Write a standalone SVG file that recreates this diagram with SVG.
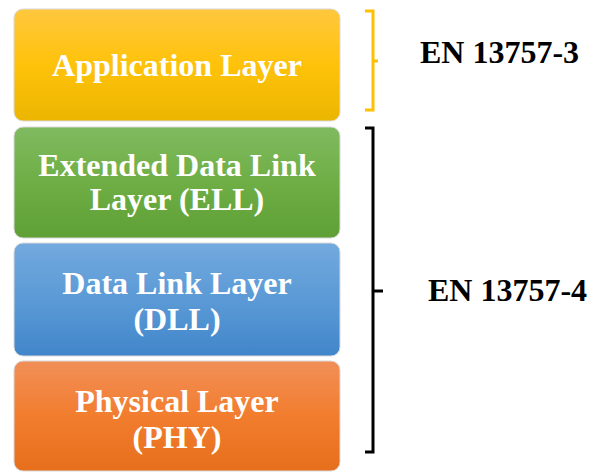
<svg xmlns="http://www.w3.org/2000/svg" width="590" height="472" viewBox="0 0 590 472">
  <style>
    .layer-text { font-family: 'Liberation Serif', 'DejaVu Serif', serif; font-weight: 700; font-size: 32px; fill: #ffffff; text-anchor: middle; }
    .std-text { font-family: 'Liberation Serif', 'DejaVu Serif', serif; font-weight: 700; font-size: 32px; fill: #000000; }
    .box { stroke: #d9d9d9; stroke-width: 1; }
    .bracket { fill: none; stroke-width: 3; stroke-linejoin: miter; }
  </style>
  <defs>
    <linearGradient id="gradYellow" x1="0" y1="0" x2="0" y2="1">
      <stop offset="0" stop-color="#ffc83e"/>
      <stop offset="0.5" stop-color="#ffc20a"/>
      <stop offset="1" stop-color="#ebb600"/>
    </linearGradient>
    <linearGradient id="gradGreen" x1="0" y1="0" x2="0" y2="1">
      <stop offset="0" stop-color="#80ba60"/>
      <stop offset="0.5" stop-color="#6eae45"/>
      <stop offset="1" stop-color="#5fa036"/>
    </linearGradient>
    <linearGradient id="gradBlue" x1="0" y1="0" x2="0" y2="1">
      <stop offset="0" stop-color="#73a9de"/>
      <stop offset="0.5" stop-color="#5b9ad6"/>
      <stop offset="1" stop-color="#4186ca"/>
    </linearGradient>
    <linearGradient id="gradOrange" x1="0" y1="0" x2="0" y2="1">
      <stop offset="0" stop-color="#f18f58"/>
      <stop offset="0.5" stop-color="#f27d2e"/>
      <stop offset="1" stop-color="#e66f1c"/>
    </linearGradient>
  </defs>

  <rect width="590" height="472" fill="#ffffff"/>

  <g id="application-layer">
    <rect class="box" x="14" y="9" width="326" height="112" rx="9" fill="url(#gradYellow)"/>
    <text class="layer-text" x="177" y="76">Application Layer</text>
  </g>

  <g id="extended-data-link-layer">
    <rect class="box" x="14" y="127" width="326" height="111" rx="9" fill="url(#gradGreen)"/>
    <text class="layer-text" x="177" y="176">Extended Data Link</text>
    <text class="layer-text" x="177" y="210">Layer (ELL)</text>
  </g>

  <g id="data-link-layer">
    <rect class="box" x="14" y="243" width="326" height="113" rx="9" fill="url(#gradBlue)"/>
    <text class="layer-text" x="177" y="294">Data Link Layer</text>
    <text class="layer-text" x="177" y="330">(DLL)</text>
  </g>

  <g id="physical-layer">
    <rect class="box" x="14" y="361" width="326" height="110" rx="9" fill="url(#gradOrange)"/>
    <text class="layer-text" x="177" y="412">Physical Layer</text>
    <text class="layer-text" x="177" y="448">(PHY)</text>
  </g>

  <g id="connectors">
    <path class="bracket" stroke="#ffc000" d="M365 11 H373 V110 H365 M373 61 H378"/>
    <path class="bracket" stroke="#000000" d="M365 128 H373 V452 H365 M373 291 H383"/>
  </g>

  <g id="en-13757-3">
    <text class="std-text" x="420" y="63">EN 13757-3</text>
  </g>
  <g id="en-13757-4">
    <text class="std-text" x="428" y="301">EN 13757-4</text>
  </g>
</svg>
